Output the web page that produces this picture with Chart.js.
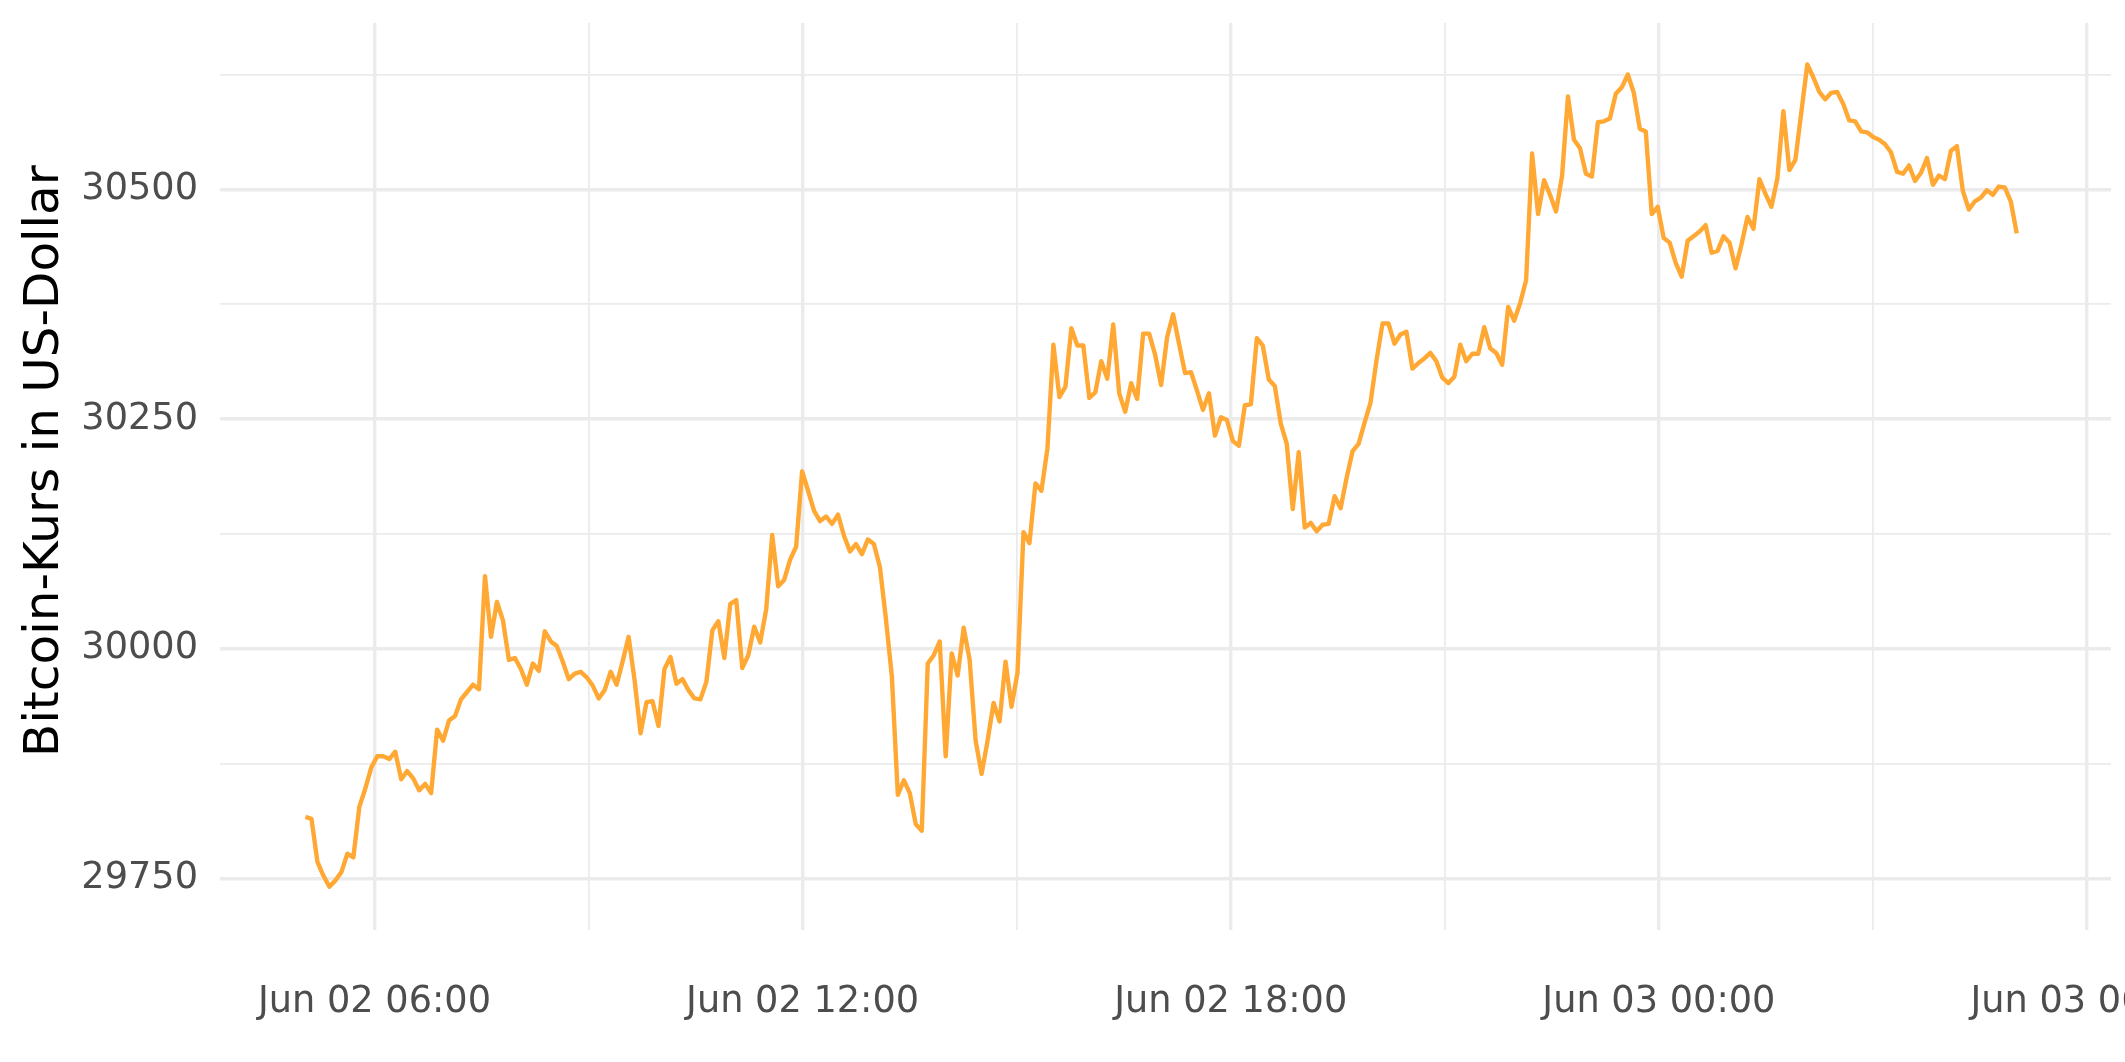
<!DOCTYPE html>
<html>
<head>
<meta charset="utf-8">
<script src="https://cdn.jsdelivr.net/npm/chart.js@4.4.0/dist/chart.umd.min.js"></script>
<style>
  html, body { margin: 0; padding: 0; background: #fff; overflow: hidden; }
  canvas { display: block; }
</style>
</head>
<body>
<canvas id="btc" width="2125" height="1062" style="width:2125px;height:1062px"></canvas>
<script>
// Bitcoin-Kurs, 5-Minuten-Werte vom 02.06. ca. 05:02 bis 03.06. ca. 05:01
const btcPrice = [
  29817, 29815, 29768, 29753, 29741, 29748, 29757, 29777, 29773, 29828,
  29848, 29871, 29883, 29883, 29880, 29888, 29858, 29867, 29859, 29846,
  29853, 29843, 29912, 29900, 29922, 29927, 29945, 29953, 29961, 29956,
  30079, 30013, 30051, 30031, 29988, 29990, 29978, 29961, 29984, 29976,
  30019, 30008, 30003, 29986, 29967, 29973, 29975, 29969, 29960, 29946,
  29955, 29975, 29961, 29986, 30013, 29966, 29908, 29942, 29943, 29916,
  29978, 29991, 29962, 29967, 29955, 29946, 29945, 29964, 30020, 30030,
  29990, 30049, 30053, 29979, 29993, 30024, 30007, 30043, 30124, 30068,
  30075, 30097, 30111, 30193, 30172, 30150, 30139, 30144, 30136, 30146,
  30123, 30106, 30114, 30103, 30119, 30114, 30089, 30033, 29970, 29841,
  29857, 29843, 29809, 29802, 29984, 29993, 30008, 29883, 29995, 29971,
  30023, 29988, 29900, 29864, 29900, 29941, 29921, 29986, 29937, 29974,
  30127, 30115, 30180, 30172, 30218, 30331, 30274, 30285, 30349, 30330,
  30330, 30273, 30279, 30313, 30294, 30353, 30278, 30258, 30289, 30272,
  30343, 30343, 30320, 30287, 30339, 30364, 30332, 30300, 30301, 30281,
  30260, 30278, 30232, 30252, 30249, 30226, 30221, 30265, 30266, 30338,
  30330, 30293, 30286, 30245, 30223, 30152, 30214, 30132, 30137, 30128,
  30135, 30136, 30166, 30153, 30186, 30215, 30223, 30246, 30268, 30314,
  30354, 30354, 30332, 30342, 30345, 30305, 30311, 30316, 30322, 30313,
  30295, 30289, 30296, 30331, 30313, 30321, 30321, 30350, 30327, 30322,
  30309, 30372, 30357, 30376, 30401, 30539, 30473, 30510, 30494, 30476,
  30514, 30601, 30554, 30545, 30517, 30514, 30573, 30574, 30577, 30604,
  30611, 30625, 30605, 30566, 30563, 30473, 30481, 30447, 30442, 30420,
  30405, 30444, 30449, 30454, 30461, 30431, 30433, 30449, 30442, 30414,
  30440, 30470, 30457, 30511, 30495, 30481, 30512, 30585, 30521, 30532,
  30584, 30636, 30622, 30606, 30598, 30605, 30606, 30593, 30575, 30574,
  30563, 30562, 30557, 30554, 30549, 30540, 30519, 30517, 30526, 30509,
  30518, 30534, 30505, 30515, 30511, 30542, 30547, 30498, 30478, 30487,
  30491, 30499, 30494, 30503, 30502, 30487, 30452
];

// Zeitachse in Stunden ab 02.06. 00:00
const firstHour = 5.033;
const lastHour  = 29.015;

const xMajorHours  = [6, 12, 18, 24, 30];
const xMajorLabels = ['Jun 02 06:00', 'Jun 02 12:00', 'Jun 02 18:00', 'Jun 03 00:00', 'Jun 03 06:00'];
const xMinorHours  = [9, 15, 21, 27];

const yMajorTicks = [29750, 30000, 30250, 30500];
const yMinorTicks = [29875, 30125, 30375, 30625];

const xRange = { min: 3.835, max: 30.336 };
const yRange = { min: 29694, max: 30681 };

const stepHour = (lastHour - firstHour) / (btcPrice.length - 1);
const points = btcPrice.map((v, i) => ({ x: firstHour + i * stepHour, y: v }));

const FONT    = 'DejaVu Sans';
const GRID    = '#ebebeb';
const TICKCOL = '#4d4d4d';
const NONE    = 'rgba(0,0,0,0)';

// feste Ticks (Haupt + Neben) plus unsichtbare Randticks mit leerem Label,
// damit Chart.js am Rand kein Platz fuer das letzte Datums-Label reserviert
function fixedTicks(range, major, minor) {
    return (scale) => {
        const vals = [range.min, ...major, ...minor, range.max].sort((a, b) => a - b);
        scale.ticks = vals.map((v) => ({ value: v }));
    };
}
const tickLabel = (major, labels) => (v) => {
    const i = major.indexOf(v);
    if (i < 0) return '';
    return labels ? labels[i] : String(v);
};
const gridColor = (major, minor) => (c) => {
    const v = c.tick && c.tick.value;
    return major.includes(v) || minor.includes(v) ? GRID : NONE;
};
const gridWidth = (major) => (c) => (c.tick && major.includes(c.tick.value) ? 3.4 : 1.8);

new Chart(document.getElementById('btc'), {
    type: 'line',
    data: {
        datasets: [{
            data: points,
            borderColor: '#ffa834',
            borderWidth: 4.4,
            borderJoinStyle: 'round',
            pointRadius: 0,
            tension: 0,
            fill: false,
        }],
    },
    options: {
        responsive: false,
        animation: false,
        devicePixelRatio: 1,
        layout: { padding: { top: 23, right: 14, left: 0, bottom: 0 } },
        plugins: { legend: { display: false }, tooltip: { enabled: false } },
        scales: {
            x: {
                type: 'linear',
                min: xRange.min,
                max: xRange.max,
                afterBuildTicks: fixedTicks(xRange, xMajorHours, xMinorHours),
                afterFit: (s) => { s.height = 132; },
                border: { display: false },
                grid: {
                    drawTicks: true,
                    tickLength: 50,
                    tickColor: NONE,
                    color: gridColor(xMajorHours, xMinorHours),
                    lineWidth: gridWidth(xMajorHours),
                },
                ticks: {
                    autoSkip: false,
                    maxRotation: 0,
                    padding: 0,
                    color: TICKCOL,
                    font: { family: FONT, size: 36.7 },
                    callback: tickLabel(xMajorHours, xMajorLabels),
                },
            },
            y: {
                type: 'linear',
                min: yRange.min,
                max: yRange.max,
                afterBuildTicks: fixedTicks(yRange, yMajorTicks, yMinorTicks),
                afterFit: (s) => { s.width = 220; },
                border: { display: false },
                grid: {
                    drawTicks: true,
                    tickLength: 22,
                    tickColor: NONE,
                    color: gridColor(yMajorTicks, yMinorTicks),
                    lineWidth: gridWidth(yMajorTicks),
                },
                ticks: {
                    autoSkip: false,
                    padding: 0,
                    color: TICKCOL,
                    font: { family: FONT, size: 36.7 },
                    callback: tickLabel(yMajorTicks, null),
                },
                title: {
                    display: true,
                    text: '  Bitcoin-Kurs in US-Dollar',
                    color: '#000000',
                    font: { family: FONT, size: 48.5 },
                    padding: { top: 16, bottom: 0 },
                },
            },
        },
    },
});
</script>
</body>
</html>
